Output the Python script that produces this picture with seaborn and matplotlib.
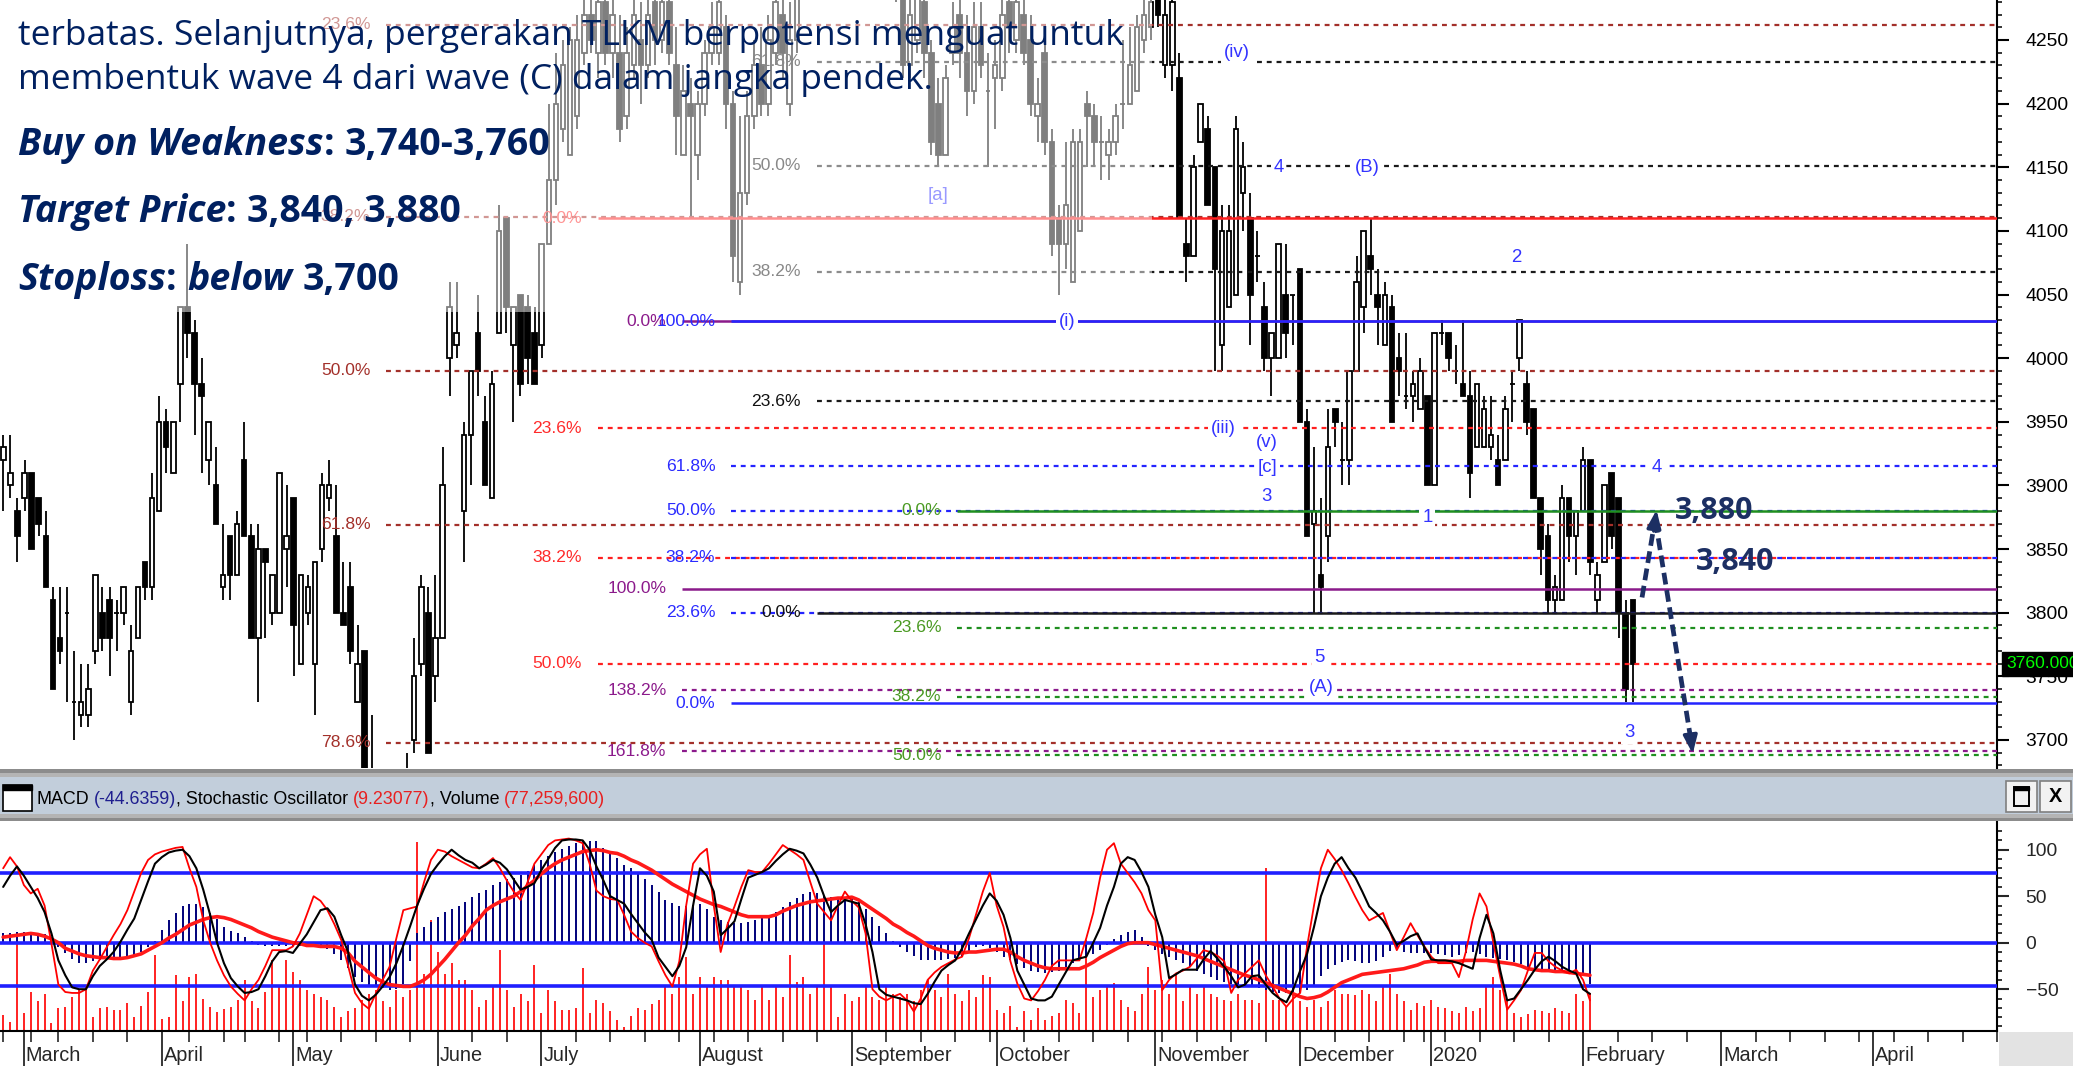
import numpy as np
import pandas as pd
import matplotlib
matplotlib.use("Agg")
import matplotlib.pyplot as plt
import matplotlib.transforms as mtransforms
from matplotlib.patches import Rectangle
from matplotlib.text import Annotation
from matplotlib import font_manager
import seaborn as sns

# ---------------- data (TLKM daily, Feb 2019 - Feb 2020) ----------------
START_DATE = "2019-02-26"
HOLIDAYS = ["2019-03-07", "2019-04-03", "2019-04-17", "2019-04-19", "2019-05-01",
            "2019-05-30", "2019-06-03", "2019-06-04", "2019-06-05", "2019-06-06",
            "2019-06-07", "2019-12-24", "2019-12-25", "2019-12-31", "2020-01-01"]

opens = [3920, 3900, 3880, 3890, 3910, 3890, 3860, 3810, 3780, 3800,
         3730, 3720, 3720, 3770, 3800, 3810, 3800, 3800, 3730, 3780,
         3840, 3820, 3880, 3950, 3910, 3980, 4040, 4020, 3980, 3920,
         3900, 3820, 3860, 3830, 3920, 3860, 3780, 3850, 3800, 3800,
         3850, 3890, 3760, 3800, 3760, 3850, 3890, 3860, 3800, 3820,
         3730, 3770, 3640, 3610, 3590, 3560, 3600, 3620, 3700, 3760,
         3800, 3750, 3780, 4000, 4010, 3880, 3940, 4020, 3950, 3890,
         4020, 4110, 4010, 4050, 4040, 4020, 4010, 4090, 4140, 4180,
         4160, 4190, 4240, 4270, 4240, 4280, 4240, 4240, 4190, 4230,
         4250, 4230, 4280, 4250, 4280, 4230, 4160, 4200, 4160, 4200,
         4240, 4240, 4260, 4200, 4060, 4130, 4190, 4230, 4200, 4240,
         4270, 4200, 4250, 4300, 4340, 4380, 4360, 4400, 4380, 4350,
         4370, 4330, 4350, 4320, 4340, 4310, 4320, 4300, 4230, 4250,
         4280, 4240, 4200, 4160, 4240, 4270, 4240, 4210, 4260, 4210,
         4220, 4220, 4280, 4250, 4270, 4250, 4190, 4240, 4170, 4110,
         4090, 4060, 4100, 4200, 4190, 4170, 4160, 4170, 4200, 4200,
         4210, 4250, 4260, 4290, 4230, 4230, 4220, 4090, 4080, 4170,
         4180, 4150, 4010, 4040, 4050, 4130, 4110, 4080, 4040, 4000,
         4000, 4050, 4050, 4070, 3950, 3870, 3830, 3860, 3960, 3920,
         3920, 3990, 4040, 4080, 4050, 4010, 4040, 4000, 3970, 3970,
         3960, 3970, 3900, 4020, 4020, 3990, 3980, 3970, 3930, 3930,
         3930, 3920, 3920, 3980, 4000, 3980, 3960, 3890, 3860, 3810,
         3810, 3890, 3860, 3880, 3920, 3810, 3840, 3910, 3890, 3800, 3810]

highs = [3940, 3940, 3890, 3920, 3910, 3890, 3880, 3820, 3820, 3820,
         3770, 3760, 3760, 3830, 3820, 3820, 3810, 3820, 3790, 3820,
         3840, 3910, 3970, 3960, 3950, 4040, 4090, 4030, 4000, 3950,
         3930, 3870, 3860, 3880, 3950, 3870, 3870, 3850, 3830, 3910,
         3900, 3890, 3830, 3830, 3840, 3910, 3920, 3900, 3840, 3840,
         3790, 3770, 3720, 3640, 3620, 3620, 3660, 3690, 3780, 3830,
         3820, 3830, 3930, 4060, 4060, 3950, 3990, 4050, 3970, 3990,
         4120, 4110, 4040, 4050, 4050, 4040, 4090, 4200, 4240, 4250,
         4260, 4270, 4290, 4300, 4300, 4300, 4290, 4270, 4260, 4300,
         4280, 4300, 4300, 4310, 4300, 4260, 4230, 4220, 4210, 4250,
         4280, 4300, 4270, 4210, 4190, 4210, 4250, 4260, 4270, 4300,
         4290, 4280, 4320, 4360, 4400, 4400, 4420, 4430, 4400, 4390,
         4380, 4370, 4360, 4360, 4350, 4340, 4330, 4310, 4290, 4300,
         4300, 4250, 4220, 4230, 4280, 4290, 4270, 4280, 4280, 4240,
         4250, 4290, 4300, 4300, 4290, 4270, 4220, 4250, 4180, 4120,
         4170, 4180, 4180, 4210, 4200, 4190, 4180, 4200, 4250, 4260,
         4270, 4290, 4300, 4310, 4290, 4300, 4240, 4110, 4160, 4200,
         4190, 4150, 4120, 4120, 4190, 4170, 4130, 4100, 4060, 4020,
         4090, 4090, 4050, 4070, 3960, 3930, 3890, 3960, 3960, 3950,
         3990, 4080, 4100, 4110, 4070, 4060, 4050, 4020, 4020, 3990,
         4000, 3970, 4020, 4030, 4020, 4010, 4030, 3990, 3980, 3970,
         3970, 3940, 3970, 3990, 4030, 3990, 3960, 3890, 3870, 3830,
         3900, 3890, 3880, 3930, 3920, 3840, 3900, 3910, 3890, 3810, 3810]

lows = [3880, 3890, 3840, 3880, 3850, 3860, 3820, 3740, 3760, 3730,
        3700, 3710, 3710, 3760, 3770, 3750, 3770, 3790, 3720, 3780,
        3810, 3810, 3880, 3910, 3910, 3950, 4000, 3940, 3910, 3900,
        3870, 3810, 3810, 3830, 3860, 3780, 3730, 3780, 3790, 3800,
        3820, 3750, 3760, 3790, 3720, 3840, 3880, 3800, 3790, 3760,
        3730, 3640, 3590, 3560, 3540, 3530, 3580, 3600, 3690, 3750,
        3690, 3730, 3780, 3970, 4000, 3840, 3900, 3970, 3900, 3890,
        4020, 4020, 3950, 3970, 3980, 3980, 4000, 4090, 4120, 4170,
        4160, 4180, 4230, 4240, 4220, 4230, 4220, 4170, 4180, 4220,
        4200, 4220, 4230, 4240, 4230, 4160, 4160, 4110, 4140, 4190,
        4230, 4230, 4180, 4060, 4050, 4120, 4180, 4190, 4190, 4230,
        4220, 4190, 4240, 4290, 4320, 4340, 4350, 4360, 4330, 4330,
        4310, 4310, 4300, 4300, 4290, 4290, 4280, 4220, 4220, 4240,
        4220, 4160, 4150, 4160, 4230, 4220, 4190, 4200, 4220, 4150,
        4180, 4210, 4240, 4240, 4230, 4190, 4170, 4160, 4080, 4050,
        4070, 4060, 4100, 4150, 4150, 4140, 4140, 4160, 4180, 4200,
        4210, 4240, 4250, 4260, 4220, 4210, 4110, 4060, 4080, 4170,
        4120, 3990, 3990, 4040, 4050, 4100, 4010, 4060, 3990, 3970,
        4000, 4000, 4010, 3950, 3860, 3800, 3800, 3840, 3930, 3900,
        3900, 3990, 4020, 4050, 4010, 4010, 3950, 3970, 3960, 3950,
        3960, 3900, 3900, 4010, 3990, 3980, 3970, 3890, 3930, 3930,
        3920, 3900, 3920, 3950, 3990, 3940, 3890, 3830, 3800, 3800,
        3810, 3840, 3830, 3880, 3830, 3800, 3840, 3850, 3780, 3730, 3730]

closes = [3930, 3910, 3860, 3910, 3850, 3870, 3820, 3740, 3770, 3800,
          3730, 3730, 3740, 3830, 3780, 3780, 3800, 3820, 3770, 3820,
          3820, 3890, 3950, 3930, 3950, 4040, 4020, 3980, 3970, 3950,
          3870, 3830, 3830, 3870, 3860, 3780, 3850, 3840, 3830, 3910,
          3860, 3790, 3830, 3820, 3840, 3900, 3900, 3800, 3790, 3770,
          3760, 3650, 3610, 3590, 3560, 3600, 3620, 3660, 3750, 3820,
          3690, 3780, 3900, 4040, 4020, 3940, 3990, 3990, 3900, 3980,
          4100, 4040, 4040, 3980, 4000, 3980, 4090, 4140, 4200, 4230,
          4250, 4250, 4270, 4250, 4280, 4240, 4270, 4180, 4240, 4270,
          4230, 4270, 4250, 4280, 4240, 4190, 4210, 4190, 4200, 4240,
          4260, 4280, 4200, 4080, 4130, 4190, 4230, 4200, 4250, 4280,
          4240, 4250, 4300, 4340, 4380, 4360, 4400, 4380, 4350, 4370,
          4330, 4350, 4320, 4340, 4310, 4320, 4300, 4230, 4270, 4290,
          4240, 4170, 4160, 4220, 4260, 4240, 4210, 4260, 4230, 4210,
          4230, 4270, 4260, 4280, 4240, 4200, 4200, 4170, 4090, 4090,
          4120, 4170, 4170, 4190, 4170, 4170, 4170, 4190, 4200, 4230,
          4260, 4270, 4280, 4270, 4270, 4280, 4110, 4080, 4150, 4200,
          4120, 4070, 4100, 4100, 4180, 4150, 4050, 4080, 4000, 4020,
          4090, 4020, 4050, 3950, 3860, 3880, 3820, 3930, 3950, 3920,
          3990, 4060, 4100, 4070, 4040, 4050, 3950, 3990, 3970, 3980,
          3990, 3900, 4020, 4020, 4000, 3990, 3970, 3910, 3980, 3960,
          3940, 3900, 3960, 3980, 4030, 3950, 3890, 3850, 3810, 3820,
          3890, 3860, 3880, 3920, 3840, 3830, 3900, 3860, 3800, 3740, 3760]

volume_m = [32, 18, 186, 36, 80, 60, 76, 15, 46, 49,
            70, 83, 90, 29, 46, 49, 42, 42, 56, 29,
            50, 80, 155, 25, 29, 114, 60, 111, 117, 66,
            49, 39, 45, 49, 63, 104, 60, 46, 80, 145,
            90, 145, 121, 104, 83, 76, 70, 63, 49, 29,
            40, 46, 63, 76, 83, 60, 49, 83, 70, 83,
            387, 117, 227, 162, 117, 138, 104, 104, 83, 49,
            63, 90, 165, 83, 49, 76, 60, 135, 36, 83,
            60, 42, 42, 46, 128, 36, 63, 56, 40, 22,
            8, 30, 46, 42, 55, 63, 90, 76, 111, 152,
            76, 111, 90, 111, 104, 104, 90, 90, 83, 63,
            90, 63, 90, 70, 155, 100, 111, 76, 90, 186,
            90, 29, 76, 60, 70, 90, 70, 63, 90, 76,
            70, 76, 60, 83, 104, 83, 70, 117, 76, 60,
            83, 70, 114, 111, 42, 36, 50, 8, 40, 22,
            46, 22, 30, 36, 63, 56, 36, 186, 70, 83,
            90, 97, 63, 49, 40, 76, 131, 83, 104, 76,
            117, 60, 90, 76, 90, 76, 70, 63, 60, 76,
            63, 63, 56, 333, 63, 63, 49, 76, 60, 49,
            63, 49, 60, 83, 76, 76, 73, 83, 76, 60,
            90, 117, 76, 60, 42, 56, 50, 63, 49, 46,
            40, 36, 49, 40, 46, 90, 111, 83, 60, 36,
            29, 35, 42, 40, 36, 46, 40, 36, 76, 60, 77]

macd_hist = [10, 10, 11, 11, 10, 10, 9, 3, -5, -11,
             -18, -22, -22, -20, -19, -18, -17, -16, -15, -13,
             -10, -5, 2, 14, 24, 32, 40, 42, 42, 38,
             32, 25, 17, 13, 10, 6, 2, -2, -3, -4,
             -4, -4, -4, -4, -4, -4, -4, -7, -12, -19,
             -27, -37, -42, -46, -47, -49, -51, -50, -44, -20,
             10, 17, 22, 28, 33, 36, 40, 44, 49, 53,
             57, 62, 65, 68, 70, 73, 77, 84, 89, 93,
             98, 101, 104, 107, 109, 109, 109, 102, 96, 91,
             84, 80, 75, 69, 62, 54, 46, 43, 40, 39,
             41, 42, 36, 28, 24, 22, 21, 21, 22, 24,
             27, 30, 33, 38, 44, 48, 52, 55, 53, 50,
             49, 49, 49, 49, 44, 36, 28, 18, 10, 2,
             -5, -10, -14, -19, -19, -19, -19, -18, -16, -15,
             -10, -5, -3, -6, -10, -15, -19, -23, -27, -30,
             -32, -33, -32, -30, -27, -22, -19, -15, -12, -8,
             -2, 4, 8, 12, 14, 6, -4, -8, -12, -15,
             -19, -22, -26, -30, -34, -37, -40, -42, -44, -45,
             -46, -47, -49, -51, -53, -54, -54, -54, -54, -51,
             -45, -36, -28, -24, -21, -19, -20, -22, -22, -20,
             -15, -9, -8, -10, -11, -11, -11, -11, -12, -13,
             -15, -13, -11, -10, -12, -15, -16, -17, -19, -21,
             -23, -26, -27, -28, -29, -30, -31, -32, -33, -36, -44]

stoch_k = [60, 72, 82, 72, 60, 48, 33, 10, -19, -35,
           -48, -50, -50, -36, -25, -18, -10, 1, 14, 26,
           46, 66, 85, 92, 97, 99, 100, 93, 80, 57,
           30, 0, -22, -38, -47, -54, -53, -50, -36, -20,
           -10, -9, -11, -1, 9, 22, 35, 37, 28, 8,
           -10, -45, -57, -62, -56, -47, -37, -22, -3, 18,
           40, 58, 74, 84, 93, 100, 94, 89, 86, 80,
           84, 89, 86, 79, 68, 57, 60, 64, 78, 90,
           102, 110, 111, 111, 110, 100, 82, 67, 50, 46,
           42, 31, 21, 11, 3, -16, -26, -36, -25, -5,
           40, 80, 72, 55, 8, 15, 23, 47, 70, 73,
           76, 80, 88, 95, 101, 99, 96, 84, 70, 50,
           33, 40, 46, 44, 42, 20, -10, -50, -56, -58,
           -60, -62, -65, -66, -55, -42, -30, -24, -19, -6,
           10, 25, 40, 53, 45, 30, 5, -30, -45, -60,
           -62, -62, -58, -45, -32, -19, -17, -15, 0, 16,
           40, 60, 85, 92, 89, 76, 60, 30, 6, -38,
           -34, -29, -29, -29, -18, -9, -17, -26, -36, -48,
           -45, -36, -35, -45, -54, -60, -64, -50, -30, -12,
           17, 50, 70, 85, 92, 80, 70, 55, 39, 32,
           24, 12, -2, 2, 7, 10, -5, -18, -19, -19,
           -20, -22, -25, -28, 5, 30, 10, -30, -62, -60,
           -50, -40, -29, -20, -15, -20, -26, -30, -33, -50, -55]

stoch_fast = [80, 92, 82, 62, 53, 58, 40, -1, -45, -53,
              -54, -54, -50, -30, -18, -5, 8, 20, 35, 55,
              75, 89, 95, 98, 100, 102, 103, 80, 60, 24,
              0, -19, -35, -47, -55, -62, -50, -40, -25, -8,
              -8, -8, -4, 10, 30, 50, 45, 35, 20, 3,
              -25, -54, -65, -71, -55, -40, -26, 5, 35, 37,
              39, 65, 89, 100, 98, 93, 89, 85, 81, 80,
              85, 91, 80, 67, 55, 46, 65, 85, 95, 105,
              110, 111, 112, 110, 107, 85, 56, 50, 47, 46,
              30, 12, 5, 0, -4, -20, -35, -47, -20, 40,
              85, 95, 101, 40, -10, 20, 39, 60, 78, 76,
              76, 85, 95, 105, 100, 95, 89, 65, 42, 33,
              24, 40, 55, 45, 38, 10, -50, -58, -62, -58,
              -55, -62, -74, -60, -40, -32, -26, -22, -18, -15,
              5, 30, 55, 75, 40, 17, -20, -44, -60, -62,
              -52, -40, -25, -19, -19, -19, -19, 5, 32, 70,
              100, 107, 85, 75, 65, 53, 35, 24, -51, -40,
              -33, -30, -26, -17, -8, -10, -14, -20, -54, -40,
              -33, -26, -19, -35, -47, -60, -69, -60, -54, -4,
              40, 80, 100, 90, 78, 64, 49, 35, 24, 28,
              32, 12, -8, 6, 21, 8, -4, -15, -22, -22,
              -22, -37, -10, 25, 53, 39, 0, -37, -72, -62,
              -51, -30, -11, -11, -20, -26, -30, -33, -29, -40, -62]

stoch_slow = [6, 7, 8, 9, 10, 9, 7, 4, 0, -6,
              -9, -12, -14, -15, -16, -16, -17, -17, -16, -14,
              -12, -8, -4, 0, 5, 9, 14, 19, 22, 25,
              27, 28, 27, 25, 22, 19, 16, 12, 9, 6,
              4, 2, 0, -1, -3, -3, -4, -4, -4, -6,
              -11, -20, -26, -32, -38, -42, -45, -46, -47, -47,
              -44, -40, -34, -26, -18, -9, 0, 8, 18, 26,
              35, 40, 44, 47, 50, 55, 61, 67, 74, 80,
              85, 89, 92, 95, 98, 99, 100, 99, 97, 96,
              93, 89, 86, 82, 78, 73, 68, 63, 59, 55,
              51, 47, 44, 41, 39, 36, 33, 30, 28, 28,
              28, 28, 30, 34, 37, 40, 42, 44, 45, 46,
              47, 48, 48, 49, 46, 41, 36, 31, 26, 20,
              16, 11, 7, 2, -3, -6, -8, -10, -11, -11,
              -10, -10, -9, -8, -7, -7, -10, -15, -19, -22,
              -25, -27, -28, -28, -28, -28, -28, -25, -21, -16,
              -12, -8, -4, -1, 0, 0, 0, -2, -4, -6,
              -8, -10, -12, -14, -17, -20, -23, -26, -29, -32,
              -35, -37, -40, -43, -46, -49, -52, -55, -58, -60,
              -59, -57, -53, -48, -43, -40, -37, -34, -33, -32,
              -31, -30, -29, -28, -26, -24, -21, -20, -20, -20,
              -20, -20, -19, -19, -19, -19, -20, -21, -22, -23,
              -25, -28, -29, -30, -30, -31, -31, -32, -33, -34, -35]

STOCH_BANDS = [75, 0, -47]
MACD_LAST = -44.6359
STOCH_LAST = 9.23077
VOLUME_LAST = 77259600

# fibonacci tools: (levels, labels)
FIB_BROWN = ([4262, 4111, 3990, 3869, 3698], ["23.6%", "38.2%", "50.0%", "61.8%", "78.6%"])
FIB_RED = ([4110, 3945, 3843, 3760], ["0.0%", "23.6%", "38.2%", "50.0%"])
FIB_PURPLE = ([4029, 3819, 3739, 3691], ["0.0%", "100.0%", "138.2%", "161.8%"])
FIB_BLUE = ([4029, 3915, 3880, 3843, 3800, 3729], ["100.0%", "61.8%", "50.0%", "38.2%", "23.6%", "0.0%"])
FIB_BLACK = ([4233, 4151, 4068, 3966, 3800], ["61.8%", "50.0%", "38.2%", "23.6%", "0.0%"])
FIB_GREEN = ([3880, 3788, 3734, 3688], ["0.0%", "23.6%", "38.2%", "50.0%"])

WAVE_LABELS = [("[a]", 131.9, 4128), ("(i)", 150.1, 4029), ("(iv)", 174.1, 4240),
               ("4", 180.0, 4150), ("(B)", 192.5, 4150), ("2", 213.6, 4079),
               ("(iii)", 172.2, 3945), ("(v)", 178.4, 3934), ("[c]", 178.4, 3914),
               ("3", 178.3, 3891), ("1", 201.0, 3875), ("4", 233.4, 3914),
               ("5", 185.8, 3765), ("(A)", 186.0, 3741), ("3", 229.5, 3706)]

TARGETS = [3880, 3840]

LINE1 = "terbatas. Selanjutnya, pergerakan TLKM berpotensi menguat untuk"
LINE2 = "membentuk wave 4 dari wave (C) dalam jangka pendek."

# ---------------- calendar ----------------
days = pd.bdate_range(START_DATE, "2020-04-30")
days = days[~days.isin(pd.to_datetime(HOLIDAYS))]
n = len(closes)
x = np.arange(n)
all_idx = np.arange(len(days))
month_first = np.r_[False, days.month[1:] != days.month[:-1]]
week_first = np.r_[True, days.dayofweek[1:] < days.dayofweek[:-1]]
month_idx = all_idx[month_first]
month_names = ["2020" if (d.month == 1 and d.year == 2020) else d.strftime("%B")
               for d in days[month_first]]
week_idx = all_idx[week_first]

# ---------------- style ----------------
sns.set_theme(style="white")
available = {f.name for f in font_manager.fontManager.ttflist}
NARROW = "Liberation Sans Narrow" if "Liberation Sans Narrow" in available else "Liberation Sans"
NS = 1.0 if NARROW == "Liberation Sans Narrow" else 0.84
plt.rcParams["font.family"] = [NARROW, "DejaVu Sans"]


def has_bold_italic(name):
    for f in font_manager.fontManager.ttflist:
        w = f.weight if isinstance(f.weight, int) else font_manager.weight_dict.get(f.weight, 400)
        if f.name == name and f.style == "italic" and w >= 600:
            return True
    return False


TEXT_FONT = "Open Sans" if "Open Sans" in available else "DejaVu Sans"
BOLD_FONT = next((f for f in ["Open Sans", "Noto Sans", "DejaVu Sans"] if has_bold_italic(f)), TEXT_FONT)

W, H = 2073, 1066
NAVY = "#002060"
XLIM = (-0.46, 281.4)

fig = plt.figure(figsize=(W / 100, H / 100), dpi=100)
fig.patch.set_facecolor("white")
ax1 = fig.add_axes([0, 1 - 768 / H, 1997 / W, 768 / H])
ax2 = fig.add_axes([0, 1 - 1030.7 / H, 1997 / W, (1030.7 - 822) / H])


def fig_rect(x0, y0, x1, y1, **kw):
    fig.patches.append(Rectangle((x0 / W, 1 - y1 / H), (x1 - x0) / W, (y1 - y0) / H,
                                 transform=fig.transFigure, figure=fig, **kw))


def text_run(x_px, y_px, parts, size, family, default_color):
    # consecutive text pieces on one baseline, each starting where the previous ends
    last = None
    for txt, weight, style, gap, col in parts:
        kw = dict(fontsize=size, fontweight=weight, fontstyle=style,
                  color=col or default_color, family=family)
        if last is None:
            last = fig.text(x_px / W, 1 - y_px / H, txt, va="baseline", ha="left",
                            zorder=7, **kw)
        else:
            ann = Annotation(txt, xy=(1, 0), xycoords=last, xytext=(gap, 0),
                             textcoords="offset points", va="bottom", ha="left",
                             annotation_clip=False, **kw)
            ann.set_zorder(7)
            fig.add_artist(ann)
            last = ann
    return last


# ---------------- price panel ----------------
o = np.array(opens); c = np.array(closes); h = np.array(highs); lo = np.array(lows)
up = c >= o
ax1.vlines(x, lo, h, color="black", lw=1.3, zorder=2)
body_low = np.minimum(o, c)
body_h = np.abs(c - o)
ax1.bar(x[up], body_h[up], bottom=body_low[up], width=0.64, color="white",
        edgecolor="black", linewidth=1.3, zorder=2.5)
ax1.bar(x[~up], body_h[~up], bottom=body_low[~up], width=0.64, color="black",
        edgecolor="black", linewidth=1.3, zorder=2.5)

DOT = (0, (2.2, 2.2))
fib_tools = [(FIB_BROWN, 54.0, "#a3302a", "#a3302a"),
             (FIB_RED, 83.9, "#ff2020", "#ff2a2a"),
             (FIB_PURPLE, 95.8, "#8b1a8b", "#8b1a8b"),
             (FIB_BLUE, 102.7, "#2424ff", "#2a2aff"),
             (FIB_BLACK, 114.8, "#1a1a1a", "#111111"),
             (FIB_GREEN, 134.6, "#1f8f1f", "#4a9a22")]
for (levels, labels), start, lcol, tcol in fib_tools:
    for lv, lab in zip(levels, labels):
        solid = lab in ("0.0%", "100.0%")
        ax1.plot([start, XLIM[1]], [lv, lv], color=lcol, lw=1.8 if solid else 1.6,
                 ls="-" if solid else DOT, zorder=3, solid_capstyle="butt")
        ax1.text(start - 2.2, lv, lab, color=tcol, fontsize=15 * NS, ha="right",
                 va="center", zorder=4)

for txt, dx, py in WAVE_LABELS:
    ax1.text(dx, py, txt, color="#3333ff", fontsize=16 * NS, ha="center", va="center",
             zorder=4, bbox=dict(boxstyle="square,pad=0.15", fc="white", ec="none"))

# forecast arrows
NAVY_ARROW = "#1c2f63"
ax1.plot([231.3, 233.1], [3812, 3872], color=NAVY_ARROW, lw=3.4, ls=(0, (2.5, 1.2)), zorder=5)
ax1.annotate("", xy=(233.4, TARGETS[0] + 3), xytext=(232.9, 3862),
             arrowprops=dict(arrowstyle="-|>,head_length=0.9,head_width=0.35",
                             color=NAVY_ARROW, lw=2.5), zorder=5)
ax1.plot([233.2, 238.2], [3872, 3700], color=NAVY_ARROW, lw=3.4, ls=(0, (2.5, 1.2)), zorder=5)
ax1.annotate("", xy=(238.5, 3687), xytext=(238.1, 3705),
             arrowprops=dict(arrowstyle="-|>,head_length=0.9,head_width=0.35",
                             color=NAVY_ARROW, lw=2.5), zorder=5)
ax1.text(241.5, TARGETS[0], f"{TARGETS[0]:,}", color=NAVY_ARROW, fontsize=22,
         family=TEXT_FONT, fontweight="bold", ha="center", va="center", zorder=6)
ax1.text(244.4, TARGETS[1], f"{TARGETS[1]:,}", color=NAVY_ARROW, fontsize=22,
         family=TEXT_FONT, fontweight="bold", ha="center", va="center", zorder=6)

# last price tag
blend = mtransforms.blended_transform_factory(ax1.transAxes, ax1.transData)
ax1.text(1.0048, closes[-1], f"{closes[-1]:.3f}", transform=blend, color="#00ff00",
         fontsize=15 * NS, ha="left", va="center", clip_on=False, zorder=8,
         bbox=dict(boxstyle="square,pad=0.25", fc="black", ec="black"))

ax1.set_xlim(*XLIM)
ax1.set_ylim(3678, 4281.4)
ax1.set_xticks([])
ax1.yaxis.tick_right()
ax1.set_yticks(np.arange(3700, 4251, 50))
ax1.set_yticks(np.arange(3680, 4281, 10), minor=True)
ax1.tick_params(axis="y", which="major", length=8.6, width=1.5, direction="out",
                pad=12, labelsize=16.5 * NS, colors="black", right=True)
ax1.tick_params(axis="y", which="minor", length=3.6, width=1.3, direction="out", right=True)
for s in ["top", "left", "bottom"]:
    ax1.spines[s].set_visible(False)
ax1.spines["right"].set_linewidth(1.5)
ax1.spines["right"].set_color("black")

# translucent box behind the commentary
ax1.add_patch(Rectangle((0, 1 - 312 / 768), 1152 / 1997, 312 / 768, transform=ax1.transAxes,
                        fc="white", ec="none", alpha=0.5, zorder=5))

fig.text(18 / W, 1 - 45 / H, LINE1, family=TEXT_FONT, fontsize=25.5, color=NAVY,
         va="baseline", ha="left", zorder=7)
fig.text(18 / W, 1 - 89 / H, LINE2, family=TEXT_FONT, fontsize=25.5, color=NAVY,
         va="baseline", ha="left", zorder=7)

BI = ("bold", "italic")
B = ("bold", "normal")
GAP = 7.5
BIG = 27
text_run(18, 155, [("Buy on Weakness", *BI, 0, None), (":", *B, 0, None),
                   ("3,740-3,760", *B, GAP, None)], BIG, BOLD_FONT, NAVY)
text_run(18, 222, [("Target Price", *BI, 0, None), (":", *B, 0, None),
                   ("3,840, 3,880", *B, GAP, None)], BIG, BOLD_FONT, NAVY)
text_run(18, 290, [("Stoploss", *BI, 0, None), (":", *B, 0, None),
                   ("below", *BI, GAP, None), ("3,700", *B, GAP, None)], BIG, BOLD_FONT, NAVY)

# ---------------- separator / indicator header ----------------
fig_rect(0, 769, W, 773, fc="#8c8c8c", ec="none")
fig_rect(0, 773, W, 777, fc="#b4b4b4", ec="none")
fig_rect(0, 777, W, 814, fc="#c2cedb", ec="none")
fig_rect(0, 814, W, 818, fc="#b4b4b4", ec="none")
fig_rect(0, 818, W, 821, fc="#8c8c8c", ec="none")
fig_rect(3, 785, 32, 811, fc="white", ec="black", lw=1.2)
fig_rect(3, 785, 32, 790, fc="black", ec="black", lw=1.0)
fig_rect(2006, 781, 2037, 812, fc="#f2f2f2", ec="#7f7f7f", lw=1.2)
fig_rect(2014, 787, 2029, 806, fc="none", ec="black", lw=1.4)
fig_rect(2014, 787, 2029, 790, fc="black", ec="black", lw=1.0)
fig_rect(2040, 781, 2071, 812, fc="#f2f2f2", ec="#7f7f7f", lw=1.2)
fig.text(2055.5 / W, 1 - 797 / H, "X", fontsize=17 * NS, fontweight="bold",
         ha="center", va="center", color="black", zorder=7)

text_run(36, 804, [("MACD", "normal", "normal", 0, "black"),
                   (f"({MACD_LAST})", "normal", "normal", 3.6, "#1f1f8f"),
                   (", Stochastic Oscillator", "normal", "normal", 0, "black"),
                   (f"({STOCH_LAST})", "normal", "normal", 3.6, "#e82020"),
                   (", Volume", "normal", "normal", 0, "black"),
                   (f"({VOLUME_LAST:,})", "normal", "normal", 3.6, "#e82020")],
         15.3 * NS, NARROW, "black")

# ---------------- indicator panel ----------------
ax2v = ax2.twinx()
ax2v.vlines(x, 0, volume_m, color="#ff1010", lw=1.3)
ax2v.set_ylim(0, 428)
ax2v.axis("off")
ax2.set_zorder(ax2v.get_zorder() + 1)
ax2.patch.set_visible(False)

ax2.vlines(x, 0, macd_hist, color="#00007a", lw=1.4, zorder=2)
for lv in STOCH_BANDS:
    ax2.axhline(lv, color="#2020ff", lw=2.6, zorder=3)

stoch = pd.DataFrame({"day": x, "k": stoch_k, "fast": stoch_fast, "slow": stoch_slow})
sns.lineplot(data=stoch, x="day", y="slow", ax=ax2, color="#ff1a1a", linewidth=2.6, zorder=4)
sns.lineplot(data=stoch, x="day", y="fast", ax=ax2, color="#ff0000", linewidth=1.3, zorder=5)
sns.lineplot(data=stoch, x="day", y="k", ax=ax2, color="black", linewidth=1.5, zorder=6)
ax2.set_xlabel("")
ax2.set_ylabel("")

ax2.set_xlim(*XLIM)
ax2.set_ylim(-94.6, 129.8)
ax2.yaxis.tick_right()
ax2.set_yticks([100, 50, 0, -50])
ax2.set_yticks(np.arange(-90, 130, 10), minor=True)
ax2.tick_params(axis="y", which="major", length=8.6, width=1.5, direction="out",
                pad=12, labelsize=16.5 * NS, right=True, left=False)
ax2.tick_params(axis="y", which="minor", length=3.6, width=1.3, direction="out",
                right=True, left=False)
ax2.set_xticks(month_idx)
ax2.set_xticklabels(month_names)
ax2.set_xticks(week_idx, minor=True)
ax2.tick_params(axis="x", which="major", length=26, width=1.3, direction="out",
                pad=-15, labelsize=17 * NS, bottom=True)
ax2.tick_params(axis="x", which="minor", length=8, width=1.2, direction="out", bottom=True)
shift = mtransforms.ScaledTranslation(2 / 100, 0, fig.dpi_scale_trans)
for lbl in ax2.get_xticklabels():
    lbl.set_ha("left")
    lbl.set_transform(lbl.get_transform() + shift)
for s in ["top", "left"]:
    ax2.spines[s].set_visible(False)
for s in ["right", "bottom"]:
    ax2.spines[s].set_linewidth(1.5)
    ax2.spines[s].set_color("black")

fig_rect(1999, 1032, W, H, fc="#e3e3e3", ec="none")

fig.savefig("out.png", dpi=100)
